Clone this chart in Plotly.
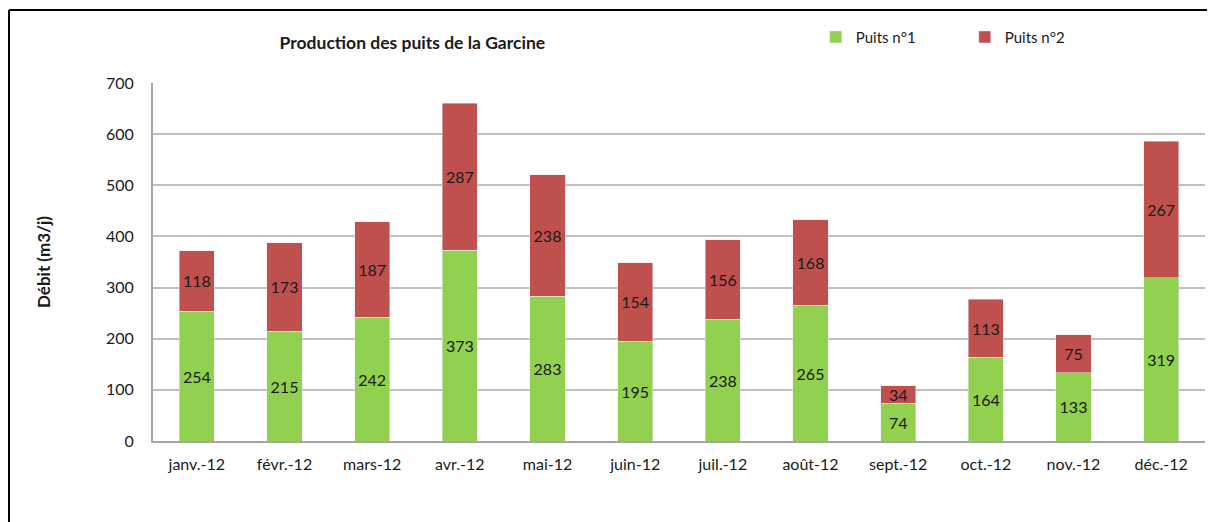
import plotly.graph_objects as go

months = ["janv.-12", "févr.-12", "mars-12", "avr.-12", "mai-12", "juin-12",
          "juil.-12", "août-12", "sept.-12", "oct.-12", "nov.-12", "déc.-12"]
puits1 = [254, 215, 242, 373, 283, 195, 238, 265, 74, 164, 133, 319]
puits2 = [118, 173, 187, 287, 238, 154, 156, 168, 34, 113, 75, 267]
y_ticks = [0, 100, 200, 300, 400, 500, 600, 700]

FONT = "Lato, 'Open Sans', sans-serif"
TXT = "#1a1a1a"

fig = go.Figure()
for name, vals, col in [("Puits n°1", puits1, "#92D050"), ("Puits n°2", puits2, "#C0504D")]:
    fig.add_trace(go.Bar(name=name, x=months, y=vals, marker_color=col,
                         text=vals, textposition="inside", insidetextanchor="middle",
                         textangle=0, cliponaxis=False,
                         textfont=dict(size=16, color=TXT, family=FONT)))

fig.update_layout(
    barmode="stack", bargap=0.6,
    width=1207, height=514,
    margin=dict(l=145, r=10, t=75, b=81, autoexpand=False),
    paper_bgcolor="white", plot_bgcolor="white",
    font=dict(family=FONT, color=TXT, size=15),
    uniformtext=dict(minsize=16, mode="show"),
    title=dict(text="<b>Production des puits de la Garcine</b>", x=0.335, xanchor="center",
               y=0.932, yanchor="middle", font=dict(size=17.5, family=FONT, color=TXT)),
    legend=dict(orientation="h", x=0.630, y=1.128, xanchor="left", yanchor="middle",
                traceorder="normal", entrywidth=104,
                font=dict(size=15, family=FONT, color=TXT),
                itemclick=False, bgcolor="rgba(0,0,0,0)"),
    showlegend=True,
)
fig.update_xaxes(showline=True, linecolor="#A6A6A6", linewidth=2, ticks="",
                 tickfont=dict(size=16, color=TXT), ticklabelstandoff=8)
fig.update_yaxes(range=[0, 700], tickvals=y_ticks, showgrid=True, gridcolor="#BFBFBF",
                 gridwidth=1.5, showline=True, linecolor="#A6A6A6", linewidth=2,
                 zeroline=False, ticks="", tickfont=dict(size=16, color=TXT),
                 ticklabelstandoff=14,
                 title=dict(text="<b>Débit (m3/j)</b>", standoff=51,
                            font=dict(size=17, color=TXT)))

# outer frame (left and top border)
fig.add_shape(type="line", xref="paper", yref="paper", x0=-0.1369, x1=-0.1369,
              y0=-0.3, y1=1.204, line=dict(color="black", width=2))
fig.add_shape(type="line", xref="paper", yref="paper", x0=-0.1369, x1=1.02,
              y0=1.204, y1=1.204, line=dict(color="black", width=2))

fig.write_html("out.html")
